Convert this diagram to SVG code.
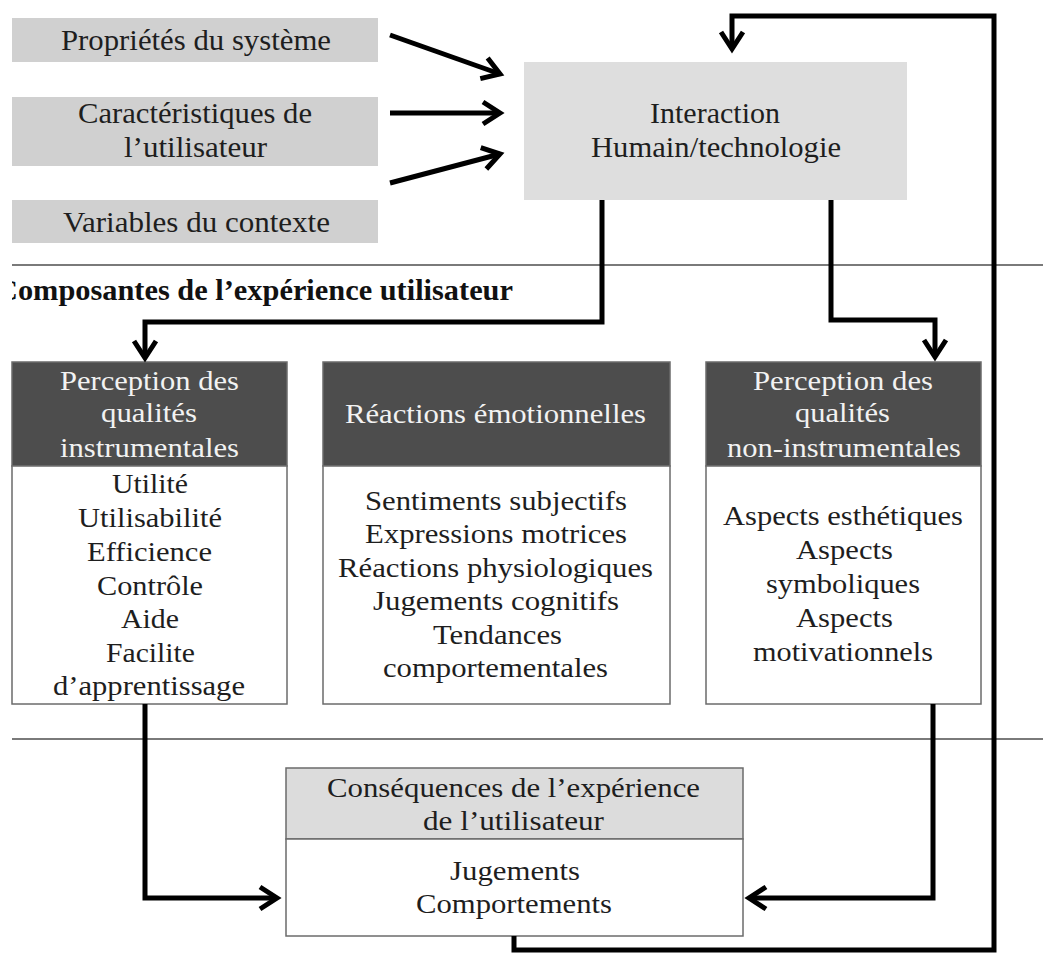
<svg xmlns="http://www.w3.org/2000/svg" width="1043" height="963" viewBox="0 0 1043 963">
<style>
  text { font-family: "Liberation Serif", "Times New Roman", serif; }
  .t30 { font-size: 30px; fill: #1e1e1e; text-anchor: middle; }
  .t28 { font-size: 28px; fill: #1e1e1e; text-anchor: middle; }
  .h28 { font-size: 28px; fill: #f2f2f2; text-anchor: middle; }
  .title { font-size: 29px; font-weight: bold; fill: #111; }
  .gray { fill: #d0d0d0; }
  .light { fill: #dedede; }
  .dark { fill: #4d4d4d; stroke: #6b6b6b; stroke-width: 1.5; }
  .body { fill: #ffffff; stroke: #6b6b6b; stroke-width: 1.5; }
  .lhead { fill: #dcdcdc; stroke: #6b6b6b; stroke-width: 1.5; }
  .sep { stroke: #7a7a7a; stroke-width: 2; fill: none; }
  .conn { stroke: #000; stroke-width: 5; fill: none; stroke-linejoin: miter; }
  .arr { marker-end: url(#chev); }
</style>
<defs>
  <marker id="chev" markerUnits="userSpaceOnUse" viewBox="-25 -15 32 30" markerWidth="32" markerHeight="30" refX="0" refY="0" orient="auto" overflow="visible">
    <path d="M-17,-11 L0,0 L-17,11" fill="none" stroke="#000" stroke-width="5" stroke-linejoin="miter"/>
  </marker>
  <clipPath id="clipTitle"><rect x="12" y="270" width="1031" height="45"/></clipPath>
</defs>
<rect width="1043" height="963" fill="#ffffff"/>

<g id="separators">
  <line class="sep" x1="12" y1="265" x2="1043" y2="265"/>
  <line class="sep" x1="12" y1="739" x2="1043" y2="739"/>
</g>

<g id="proprietes">
  <rect class="gray" x="12" y="18" width="366" height="44"/>
  <text class="t30" x="196" y="50" textLength="270" lengthAdjust="spacingAndGlyphs">Propriétés du système</text>
</g>
<g id="caracteristiques">
  <rect class="gray" x="12" y="97" width="366" height="69"/>
  <text class="t30" x="195" y="123" textLength="234" lengthAdjust="spacingAndGlyphs">Caractéristiques de</text>
  <text class="t30" x="195.5" y="157" textLength="143" lengthAdjust="spacingAndGlyphs">l’utilisateur</text>
</g>
<g id="variables">
  <rect class="gray" x="12" y="200" width="366" height="43"/>
  <text class="t30" x="196.5" y="232" textLength="267" lengthAdjust="spacingAndGlyphs">Variables du contexte</text>
</g>

<g id="interaction">
  <rect class="light" x="524" y="62" width="383" height="138"/>
  <text class="t30" x="715" y="123" textLength="130" lengthAdjust="spacingAndGlyphs">Interaction</text>
  <text class="t30" x="716" y="157" textLength="250" lengthAdjust="spacingAndGlyphs">Humain/technologie</text>
</g>

<g id="titre" clip-path="url(#clipTitle)">
  <text class="title" x="-4" y="300" textLength="517" lengthAdjust="spacingAndGlyphs">Composantes de l’expérience utilisateur</text>
</g>

<g id="instrumentales">
  <rect class="dark" x="12" y="362" width="275" height="104"/>
  <rect class="body" x="12" y="466" width="275" height="238"/>
  <text class="h28" x="149.5" y="390" textLength="179" lengthAdjust="spacingAndGlyphs">Perception des</text>
  <text class="h28" x="149" y="422" textLength="96" lengthAdjust="spacingAndGlyphs">qualités</text>
  <text class="h28" x="149.5" y="457" textLength="179" lengthAdjust="spacingAndGlyphs">instrumentales</text>
  <text class="t28" x="150" y="493" textLength="76" lengthAdjust="spacingAndGlyphs">Utilité</text>
  <text class="t28" x="150" y="527" textLength="144" lengthAdjust="spacingAndGlyphs">Utilisabilité</text>
  <text class="t28" x="149.5" y="561" textLength="125" lengthAdjust="spacingAndGlyphs">Efficience</text>
  <text class="t28" x="150" y="595" textLength="106" lengthAdjust="spacingAndGlyphs">Contrôle</text>
  <text class="t28" x="150" y="628" textLength="58" lengthAdjust="spacingAndGlyphs">Aide</text>
  <text class="t28" x="150.5" y="662" textLength="89" lengthAdjust="spacingAndGlyphs">Facilite</text>
  <text class="t28" x="149" y="695" textLength="192" lengthAdjust="spacingAndGlyphs">d’apprentissage</text>
</g>

<g id="emotions">
  <rect class="dark" x="323" y="362" width="347" height="104"/>
  <rect class="body" x="323" y="466" width="347" height="238"/>
  <text class="h28" x="495.5" y="423" textLength="301" lengthAdjust="spacingAndGlyphs">Réactions émotionnelles</text>
  <text class="t28" x="496" y="509.5" textLength="262" lengthAdjust="spacingAndGlyphs">Sentiments subjectifs</text>
  <text class="t28" x="496" y="543" textLength="262" lengthAdjust="spacingAndGlyphs">Expressions motrices</text>
  <text class="t28" x="495.5" y="576.5" textLength="315" lengthAdjust="spacingAndGlyphs">Réactions physiologiques</text>
  <text class="t28" x="496" y="610" textLength="246" lengthAdjust="spacingAndGlyphs">Jugements cognitifs</text>
  <text class="t28" x="497.5" y="643.5" textLength="129" lengthAdjust="spacingAndGlyphs">Tendances</text>
  <text class="t28" x="495.5" y="677" textLength="225" lengthAdjust="spacingAndGlyphs">comportementales</text>
</g>

<g id="non-instrumentales">
  <rect class="dark" x="706" y="362" width="275" height="104"/>
  <rect class="body" x="706" y="466" width="275" height="238"/>
  <text class="h28" x="843" y="390" textLength="180" lengthAdjust="spacingAndGlyphs">Perception des</text>
  <text class="h28" x="842.5" y="422" textLength="95" lengthAdjust="spacingAndGlyphs">qualités</text>
  <text class="h28" x="844" y="457" textLength="234" lengthAdjust="spacingAndGlyphs">non-instrumentales</text>
  <text class="t28" x="843" y="525" textLength="240" lengthAdjust="spacingAndGlyphs">Aspects esthétiques</text>
  <text class="t28" x="844.5" y="559" textLength="97" lengthAdjust="spacingAndGlyphs">Aspects</text>
  <text class="t28" x="843" y="593" textLength="154" lengthAdjust="spacingAndGlyphs">symboliques</text>
  <text class="t28" x="844.5" y="627" textLength="97" lengthAdjust="spacingAndGlyphs">Aspects</text>
  <text class="t28" x="843" y="661" textLength="180" lengthAdjust="spacingAndGlyphs">motivationnels</text>
</g>

<g id="consequences">
  <rect class="lhead" x="286" y="768" width="457" height="71"/>
  <rect class="body" x="286" y="839" width="457" height="97"/>
  <text class="t28" x="513.5" y="797" textLength="373" lengthAdjust="spacingAndGlyphs">Conséquences de l’expérience</text>
  <text class="t28" x="513.5" y="830" textLength="181" lengthAdjust="spacingAndGlyphs">de l’utilisateur</text>
  <text class="t28" x="515" y="880" textLength="130" lengthAdjust="spacingAndGlyphs">Jugements</text>
  <text class="t28" x="514" y="913" textLength="196" lengthAdjust="spacingAndGlyphs">Comportements</text>
</g>

<g id="connectors">
  <path class="conn arr" d="M390,35 L500,74"/>
  <path class="conn arr" d="M390,113 L500,113"/>
  <path class="conn arr" d="M390,183 L500,154"/>
  <path class="conn arr" d="M602,200 L602,322 L145,322 L145,358"/>
  <path class="conn arr" d="M831,200 L831,320 L935,320 L935,357"/>
  <path class="conn arr" d="M145,704 L145,898 L277,898"/>
  <path class="conn arr" d="M933,704 L933,898 L749,898"/>
  <path class="conn arr" d="M514,936 L514,950 L994,950 L994,16 L732,16 L732,49"/>
</g>
</svg>
